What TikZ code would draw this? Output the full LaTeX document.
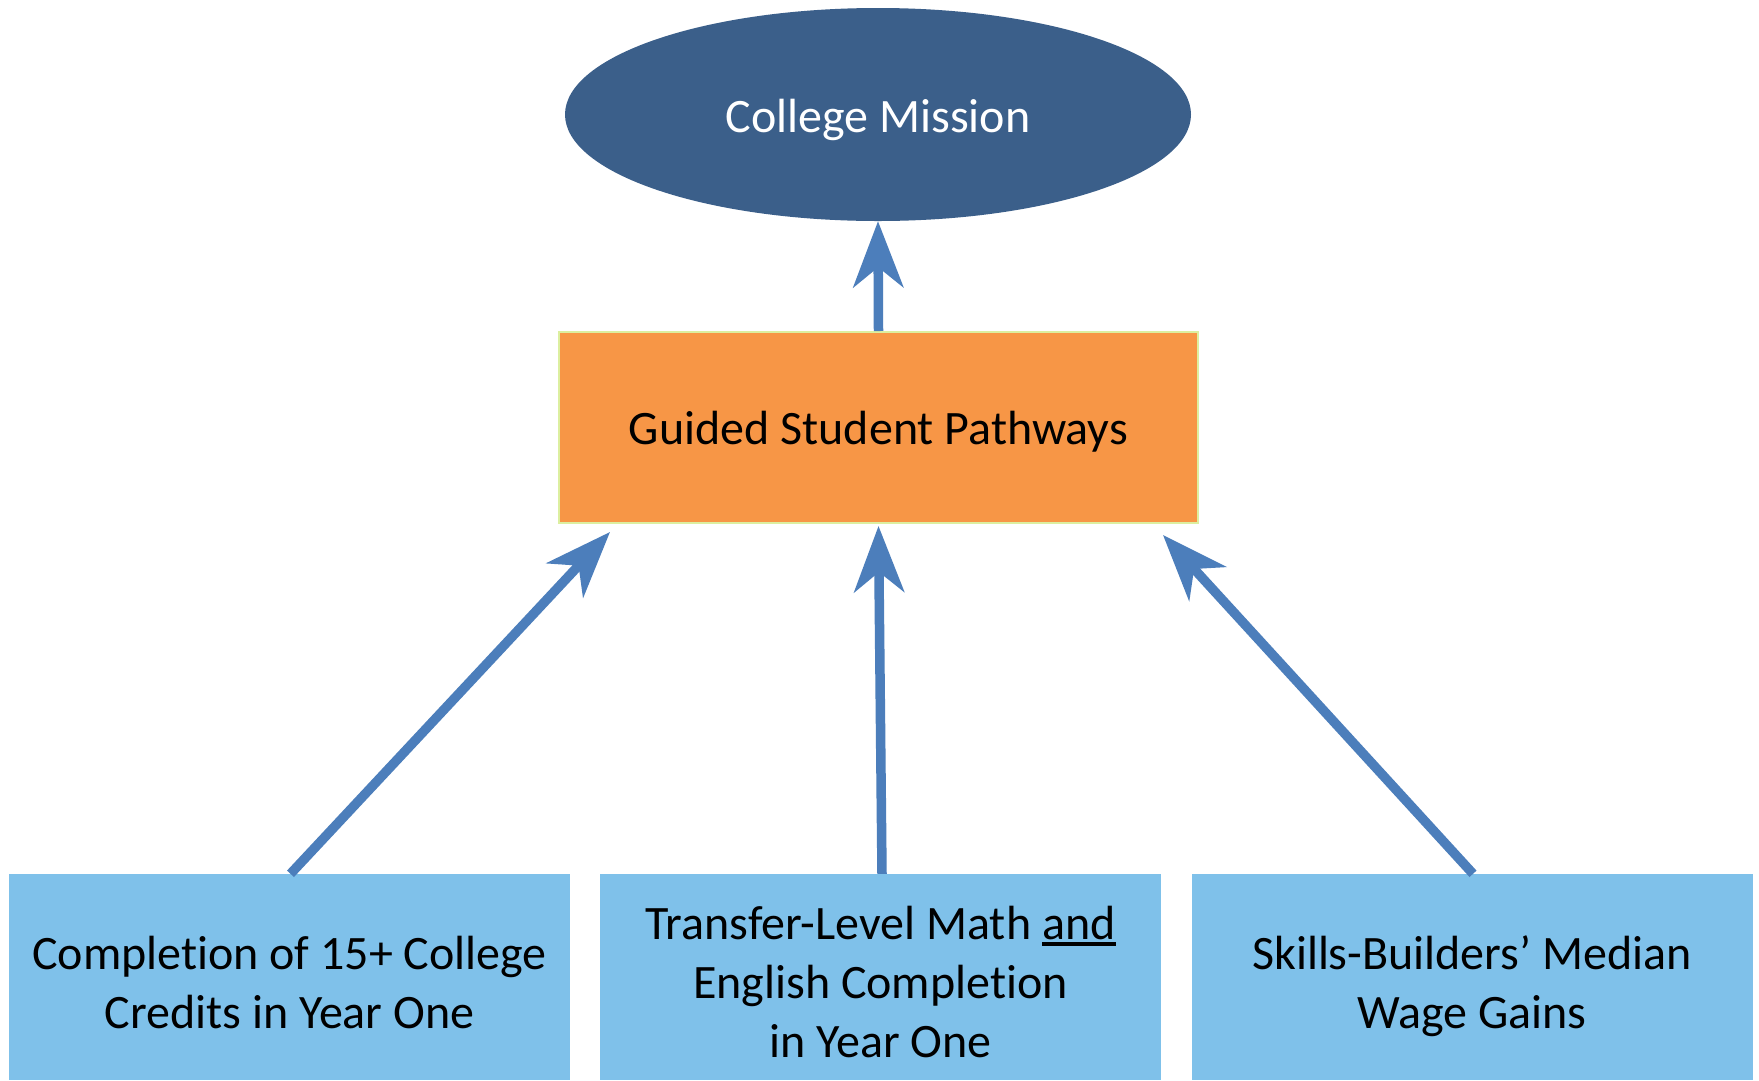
\documentclass[tikz,border=0pt]{standalone}
\usepackage{fontspec}
\setmainfont[Ligatures=NoCommon]{Carlito}
\usetikzlibrary{shapes.geometric,arrows.meta,calc}
\definecolor{mission}{HTML}{3B5F8A}
\definecolor{gsporange}{HTML}{F79646}
\definecolor{gspborder}{HTML}{DCEFA0}
\definecolor{boxblue}{HTML}{7FC1EA}
\definecolor{arrowblue}{HTML}{4C7EBB}
\newcommand\myul[1]{\setbox0\hbox{#1}\rlap{\rule[-0.12em]{\wd0}{0.065em}}#1}
\tikzset{
  x=1pt, y=-1pt,
  bottombox/.style={fill=boxblue, draw=none, minimum width=561pt, minimum height=206pt, inner sep=0pt},
  boxtext/.style={align=center, inner sep=0pt, font=\fontsize{48}{59}\selectfont},
  conn/.style={draw=arrowblue, line width=9.5pt, -{Stealth[length=66pt, width=50pt, inset=20pt]}}
}
\begin{document}
\begin{tikzpicture}
\useasboundingbox (0,0) rectangle (1759,1080);
\fill[white] (0,0) rectangle (1759,1080);
\node[ellipse, fill=mission, minimum width=626pt, minimum height=213pt, inner sep=0pt] (cm) at (878,114.5) {};
\node[text=white, font=\fontsize{48}{57}\selectfont] (cmt) at (878,120) {College Mission};
\node[rectangle, fill=gsporange, draw=gspborder, line width=2pt, minimum width=639pt, minimum height=191pt, inner sep=0pt] (gsp) at (878.5,427.5) {};
\node[font=\fontsize{48}{57}\selectfont] (gspt) at (878.5,432) {Guided Student Pathways};
\node[bottombox] (b1) at (289.5,977) {};
\node[bottombox] (b2) at (880.5,977) {};
\node[bottombox] (b3) at (1472,977) {};
\node[boxtext] (t1) at (289.5,987) {\strut Completion of 15+ College\\\strut Credits in Year One};
\node[boxtext] (t2) at (880.5,987) {\strut Transfer-Level Math \myul{and}\\\strut English Completion\\\strut in Year One};
\node[boxtext] (t3) at (1472,987) {\strut Skills-Builders’ Median\\\strut Wage Gains};
\draw[conn] (gsp.north) -- (cm.south);
\draw[conn] ($(b1.north)+(1,0)$) -- ($(gsp.south west)+(52,8)$);
\draw[conn] ($(b2.north)+(1.5,0)$) -- ($(gsp.south)+(0,2)$);
\draw[conn] ($(b3.north)+(1,0)$) -- ($(gsp.south east)+(-36,11)$);
\end{tikzpicture}
\end{document}
